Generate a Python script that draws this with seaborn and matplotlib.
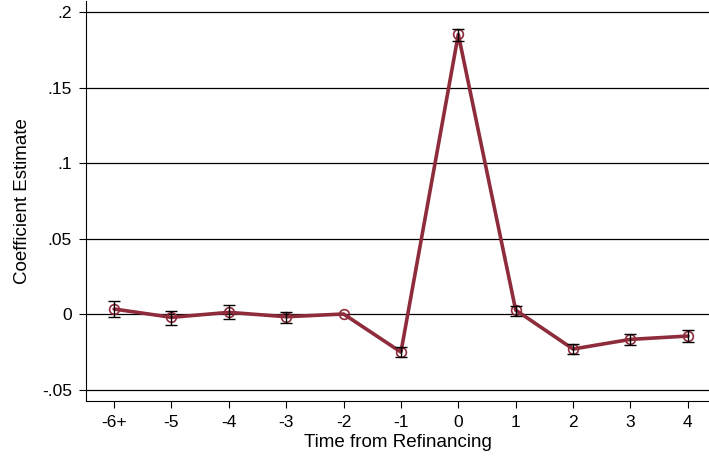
import matplotlib
matplotlib.use("Agg")
import matplotlib.pyplot as plt
import seaborn as sns
import numpy as np
import pandas as pd

labels = ["-6+", "-5", "-4", "-3", "-2", "-1", "0", "1", "2", "3", "4"]
coef = [0.0033, -0.0022, 0.0011, -0.0018, 0.0, -0.0252, 0.1852, 0.0026, -0.0232, -0.0168, -0.0146]
ci_hi = [0.0086, 0.0022, 0.0058, 0.0015, 0.0, -0.0220, 0.1886, 0.0055, -0.0199, -0.0132, -0.0106]
ci_lo = [-0.0022, -0.0073, -0.0031, -0.0058, 0.0, -0.0285, 0.1810, -0.0011, -0.0265, -0.0205, -0.0185]
yticks = [-0.05, 0, 0.05, 0.1, 0.15, 0.2]
ytick_labels = ["-.05", "0", ".05", ".1", ".15", ".2"]

sns.set_style("white")
plt.rcParams["font.family"] = ["Liberation Sans", "DejaVu Sans"]
plt.rcParams["text.color"] = "black"
plt.rcParams["axes.labelcolor"] = "black"
plt.rcParams["xtick.color"] = "black"
plt.rcParams["ytick.color"] = "black"

df = pd.DataFrame({"x": np.arange(len(labels)), "coef": coef, "lo": ci_lo, "hi": ci_hi})

fig = plt.figure(figsize=(7.09, 4.58), dpi=100)
ax = fig.add_axes([0.1213, 0.1245, 0.8787, 0.8733])

for y in yticks:
    ax.axhline(y, color="black", lw=0.9, zorder=0)

color = "#8e2c3b"
sns.lineplot(data=df, x="x", y="coef", ax=ax, color=color, lw=2.6, zorder=2,
             marker="o", markersize=7, markerfacecolor="none",
             markeredgecolor=color, markeredgewidth=1.2)

mask = df["hi"] != df["lo"]
ax.errorbar(df["x"][mask], df["coef"][mask],
            yerr=[(df["coef"] - df["lo"])[mask], (df["hi"] - df["coef"])[mask]],
            fmt="none", ecolor="black", elinewidth=1.0, capsize=4, capthick=1.0, zorder=3)

ax.set_xlim(-0.49, 10.37)
ax.set_ylim(-0.0576, 0.2073)
ax.set_xticks(df["x"])
ax.set_xticklabels(labels)
ax.set_yticks(yticks)
ax.set_yticklabels(ytick_labels)
ax.tick_params(axis="both", direction="out", length=5, width=0.8, color="black",
               labelcolor="black", labelsize=12.5, pad=5, left=True, bottom=True)
ax.set_xlabel("Time from Refinancing", fontsize=13.5, labelpad=3, color="black")
ax.set_ylabel("Coefficient Estimate", fontsize=13.5, labelpad=8, color="black")

for s in ["top", "right"]:
    ax.spines[s].set_visible(False)
for s in ["left", "bottom"]:
    ax.spines[s].set_color("black")
    ax.spines[s].set_linewidth(0.8)

fig.savefig("out.png", dpi=100)
